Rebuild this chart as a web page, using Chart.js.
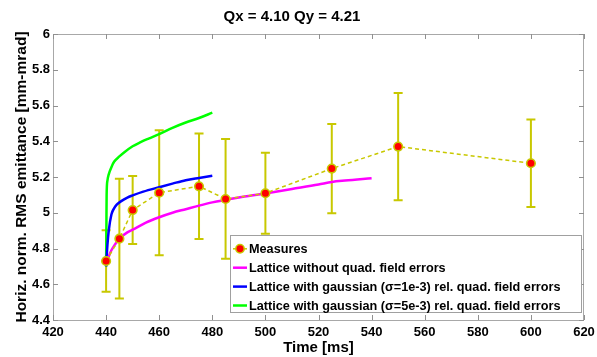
<!DOCTYPE html>
<html>
<head>
<meta charset="utf-8">
<script src="https://cdn.jsdelivr.net/npm/chart.js@4.4.1/dist/chart.umd.min.js"></script>
<style>
  html, body { margin: 0; padding: 0; background: #fff; }
  canvas { display: block; }
</style>
</head>
<body>
<canvas id="myChart" width="597" height="357"></canvas>
<script>
// measured emittance with error bars
const measX = [440, 445, 450, 460, 475, 485, 500, 525, 550, 600];
const measY = [4.73, 4.855, 5.015, 5.112, 5.148, 5.077, 5.109, 5.247, 5.37, 5.277];
const measErr = [0.172, 0.335, 0.19, 0.35, 0.295, 0.335, 0.226, 0.25, 0.3, 0.245];

// simulated lattices
const noErrX = [440, 441, 442, 443, 445, 448, 450, 455, 460, 465, 470, 475, 480, 485, 490, 500, 510, 520, 525, 530, 540];
const noErrY = [4.707, 4.755, 4.79, 4.815, 4.855, 4.89, 4.905, 4.945, 4.975, 5.0, 5.02, 5.04, 5.058, 5.072, 5.085, 5.108, 5.133, 5.158, 5.172, 5.18, 5.193];

const sig1X = [440, 440.5, 441, 442, 443, 444, 446, 448, 450, 454, 460, 465, 470, 475, 480];
const sig1Y = [4.70, 4.82, 4.90, 4.99, 5.025, 5.045, 5.068, 5.085, 5.097, 5.118, 5.143, 5.163, 5.182, 5.195, 5.207];

const sig5X = [440, 440.1, 440.2, 440.5, 441, 442, 443, 445, 447, 450, 453, 456, 460, 465, 470, 475, 480];
const sig5Y = [4.70, 4.90, 5.10, 5.18, 5.215, 5.255, 5.285, 5.315, 5.34, 5.372, 5.395, 5.415, 5.44, 5.475, 5.505, 5.53, 5.56];

const seriesLabels = [
  'Measures',
  'Lattice without quad. field errors',
  'Lattice with gaussian (\u03c3=1e-3) rel. quad. field errors',
  'Lattice with gaussian (\u03c3=5e-3) rel. quad. field errors'
];

// axis ticks
const xTicks = [420, 440, 460, 480, 500, 520, 540, 560, 580, 600, 620];
const xTickLabels = ['420', '440', '460', '480', '500', '520', '540', '560', '580', '600', '620'];
const yTicks = [4.4, 4.6, 4.8, 5.0, 5.2, 5.4, 5.6, 5.8, 6.0];
const yTickLabels = ['4.4', '4.6', '4.8', '5', '5.2', '5.4', '5.6', '5.8', '6'];

const YEL = '#c8c800';
const FONT = "'Liberation Sans', Arial, Helvetica, sans-serif";

function pts(xs, ys) {
  return xs.map((x, i) => ({ x: x, y: ys[i] }));
}

// error bars for the measures, drawn under the datasets
const errorBars = {
  id: 'errorBars',
  beforeDatasetsDraw(chart) {
    const ctx = chart.ctx;
    const xs = chart.scales.x, ys = chart.scales.y;
    ctx.save();
    ctx.strokeStyle = YEL;
    ctx.lineWidth = 2;
    measX.forEach((x, i) => {
      const px = xs.getPixelForValue(x);
      const top = ys.getPixelForValue(measY[i] + measErr[i]);
      const bot = ys.getPixelForValue(measY[i] - measErr[i]);
      ctx.beginPath();
      ctx.moveTo(px, top); ctx.lineTo(px, bot);
      ctx.moveTo(px - 4.5, top); ctx.lineTo(px + 4.5, top);
      ctx.moveTo(px - 4.5, bot); ctx.lineTo(px + 4.5, bot);
      ctx.stroke();
    });
    ctx.restore();
  }
};

// matlab-like box with inward ticks
const boxTicks = {
  id: 'boxTicks',
  afterDatasetsDraw(chart) {
    const ctx = chart.ctx;
    const a = chart.chartArea;
    const xs = chart.scales.x, ys = chart.scales.y;
    ctx.save();
    ctx.strokeStyle = '#a8a8a8';
    ctx.lineWidth = 1;
    ctx.strokeRect(a.left + 0.5, a.top + 0.5, a.right - a.left - 1, a.bottom - a.top);
    ctx.strokeStyle = '#909090';
    ctx.beginPath();
    xTicks.forEach(v => {
      const px = Math.round(xs.getPixelForValue(v)) + 0.5;
      ctx.moveTo(px, a.bottom); ctx.lineTo(px, a.bottom - 5);
      ctx.moveTo(px, a.top); ctx.lineTo(px, a.top + 5);
    });
    yTicks.forEach(v => {
      const py = Math.round(ys.getPixelForValue(v)) + 0.5;
      ctx.moveTo(a.left, py); ctx.lineTo(a.left + 5, py);
      ctx.moveTo(a.right, py); ctx.lineTo(a.right - 5, py);
    });
    ctx.stroke();
    ctx.restore();
  }
};

// legend box inside the plot, bottom right
const boxLegend = {
  id: 'boxLegend',
  afterDraw(chart) {
    const ctx = chart.ctx;
    const L = 230.5, T = 235.5, R = 581.5, B = 312.5;
    ctx.save();
    ctx.fillStyle = '#fff';
    ctx.fillRect(L, T, R - L, B - T);
    ctx.strokeStyle = '#a0a0a0';
    ctx.lineWidth = 1;
    ctx.strokeRect(L, T, R - L, B - T);
    ctx.font = 'bold 12.7px ' + FONT;
    ctx.textBaseline = 'middle';
    ctx.textAlign = 'left';
    chart.data.datasets.forEach((ds, i) => {
      const y = T + 13.3 + i * 18.9;
      ctx.strokeStyle = i === 0 ? YEL : ds.borderColor;
      ctx.lineWidth = i === 0 ? 1.5 : 2.5;
      ctx.beginPath();
      ctx.moveTo(233, y); ctx.lineTo(247, y);
      ctx.stroke();
      if (i === 0) {
        ctx.beginPath();
        ctx.arc(240, y, 4.2, 0, Math.PI * 2);
        ctx.fillStyle = '#ff0000';
        ctx.fill();
        ctx.strokeStyle = YEL;
        ctx.lineWidth = 1.5;
        ctx.stroke();
      }
      ctx.fillStyle = '#000';
      ctx.fillText(ds.label, 249, y + 0.5);
    });
    ctx.restore();
  }
};

const ctx = document.getElementById('myChart').getContext('2d');
const config = {
  type: 'scatter',
  data: {
    datasets: [{
      label: seriesLabels[0],
      data: pts(measX, measY),
      showLine: true,
      borderColor: YEL,
      borderWidth: 1.5,
      borderDash: [4, 3],
      pointRadius: 4.3,
      pointBorderWidth: 1.6,
      pointBackgroundColor: '#ff0000',
      pointBorderColor: YEL,
    }, {
      label: seriesLabels[1],
      data: pts(noErrX, noErrY),
      showLine: true,
      borderColor: '#ff00ff',
      borderWidth: 2.5,
      pointRadius: 0,
      cubicInterpolationMode: 'monotone',
    }, {
      label: seriesLabels[2],
      data: pts(sig1X, sig1Y),
      showLine: true,
      borderColor: '#0000ff',
      borderWidth: 2.5,
      pointRadius: 0,
      cubicInterpolationMode: 'monotone',
    }, {
      label: seriesLabels[3],
      data: pts(sig5X, sig5Y),
      showLine: true,
      borderColor: '#00ff00',
      borderWidth: 2.5,
      pointRadius: 0,
      cubicInterpolationMode: 'monotone',
    }]
  },
  options: {
    responsive: false,
    animation: false,
    layout: { padding: { left: 0, right: 13, top: 0, bottom: 0 } },
    plugins: {
      legend: { display: false },
      tooltip: { enabled: false },
      title: {
        display: true,
        text: 'Qx = 4.10 Qy = 4.21',
        color: '#000',
        font: { family: FONT, size: 15, weight: 'bold' },
        padding: { top: 8, bottom: 8 },
      },
    },
    scales: {
      x: {
        type: 'linear',
        min: 420, max: 620,
        grid: { display: false, drawTicks: false },
        border: { display: false },
        afterBuildTicks: s => { s.ticks = xTicks.map(v => ({ value: v })); },
        afterFit: s => { s.height = 37; s.paddingLeft = 0; s.paddingRight = 0; },
        ticks: {
          padding: 5,
          color: '#000',
          maxRotation: 0,
          autoSkip: false,
          font: { family: FONT, size: 13, weight: 'bold' },
          callback: (v) => xTickLabels[xTicks.indexOf(v)],
        },
        title: {
          display: true,
          text: 'Time [ms]',
          color: '#000',
          font: { family: FONT, size: 15, weight: 'bold' },
          padding: { top: 1, bottom: 0 },
        },
      },
      y: {
        type: 'linear',
        min: 4.4, max: 6,
        grid: { display: false, drawTicks: false },
        border: { display: false },
        afterBuildTicks: s => { s.ticks = yTicks.map(v => ({ value: v })); },
        afterFit: s => { s.width = 53; s.paddingTop = 0; s.paddingBottom = 0; },
        ticks: {
          padding: 3,
          color: '#000',
          autoSkip: false,
          font: { family: FONT, size: 13, weight: 'bold' },
          callback: (v) => yTickLabels[yTicks.findIndex(t => Math.abs(t - v) < 1e-9)],
        },
        title: {
          display: true,
          text: 'Horiz. norm. RMS emittance [mm-mrad]',
          color: '#000',
          font: { family: FONT, size: 15.5, weight: 'bold' },
          padding: { top: 12, bottom: 0 },
        },
      },
    },
  },
  plugins: [errorBars, boxTicks, boxLegend],
};
const c = new Chart(ctx, config);
</script>
</body>
</html>
